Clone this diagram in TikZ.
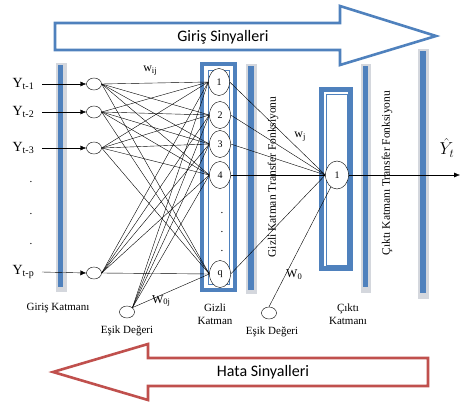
\documentclass[tikz,border=0pt]{standalone}
\usepackage{fontspec}
\setmainfont{Liberation Serif}
\newfontfamily\calibri{Carlito}
\usetikzlibrary{shapes.geometric,arrows.meta}
\definecolor{netblue}{RGB}{79,129,189}
\definecolor{netred}{RGB}{192,80,77}
\definecolor{bargrey}{RGB}{212,215,221}
\newcommand\sbs[1]{\raisebox{-0.35ex}{\fontsize{8.5}{9}\selectfont #1}}
\newcommand\ylab[1]{{\fontsize{14}{14}\selectfont Y}\raisebox{-0.45ex}{\fontsize{10}{10}\selectfont #1}}
\tikzset{
  inode/.style={draw,ellipse,fill=white,inner sep=0pt,minimum width=15pt,minimum height=12pt},
  hnode/.style={draw,ellipse,fill=white,inner sep=0pt,minimum width=21pt,minimum height=27pt,font=\fontsize{10}{10}\selectfont},
  lbl/.style={font=\fontsize{11}{13}\selectfont,align=center,inner sep=0pt},
  wlbl/.style={font=\fontsize{12}{12}\selectfont,inner sep=0pt},
  sideways/.style={font=\fontsize{11.5}{11.5}\selectfont,rotate=90,inner sep=0pt},
  bigarrow/.style={line width=2.6pt,fill=white,line join=miter},
  arr/.style={-{Latex[length=6pt,width=5pt]}}
}
\begin{document}
\begin{tikzpicture}[x=1pt,y=-1pt]
\useasboundingbox (0,0) rectangle (463,404);

\fill[bargrey] (56,63) rectangle (67,292);
\fill[netblue] (58,65) rectangle (63,287);
\fill[bargrey] (246,64) rectangle (257,294);
\fill[netblue] (248,66) rectangle (254,290);
\fill[bargrey] (361,64) rectangle (371,293);
\fill[netblue] (363,66) rectangle (368,287);
\fill[bargrey] (418,49) rectangle (429,299);
\fill[netblue] (420,51) rectangle (426,293);

\draw[netblue,line width=4pt] (202,64) rectangle (235,290);
\draw[netblue,line width=0.9pt] (208,70) rectangle (229,284);
\draw[netblue,line width=5pt] (321.5,89.5) rectangle (350.5,268.5);
\draw[netblue,line width=0.9pt] (326,94) rectangle (347,265);

\draw[netblue,bigarrow] (55,23) -- (340,23) -- (340,6) -- (436,36) -- (340,65) -- (340,50) -- (55,50) -- cycle;
\node (giris) at (223,37) {\calibri\fontsize{16}{16}\selectfont Giriş Sinyalleri};
\draw[netred,bigarrow] (53,372) -- (148,344) -- (148,358) -- (428,358) -- (428,386) -- (148,386) -- (148,400) -- cycle;
\node (hata) at (263,372) {\calibri\fontsize{16}{16}\selectfont Hata Sinyalleri};

\node[inode] (i1) at (94,84) {};
\node[inode] (i2) at (94,112) {};
\node[inode] (i3) at (94,148) {};
\node[inode] (i4) at (94,273) {};
\node[inode] (b1) at (127,312) {};
\node[inode] (b2) at (269,313) {};

\node[hnode] (h1) at (219,82) {1};
\node[hnode] (h2) at (220,115) {2};
\node[hnode] (h3) at (220,144) {3};
\node[hnode] (h4) at (220,175) {4};
\node[hnode] (h5) at (220,274) {q};
\node[hnode,minimum width=23pt,minimum height=28pt] (o) at (337,175) {1};

\node[lbl,anchor=east] (y1) at (34,84) {\ylab{t-1}};
\node[lbl,anchor=east] (y2) at (34,112) {\ylab{t-2}};
\node[lbl,anchor=east] (y3) at (34,148) {\ylab{t-3}};
\node[lbl,anchor=east] (y4) at (34,272) {\ylab{t-p}};
\foreach \i in {1,...,4}
{
    \draw[arr] (y\i.east) ++(8,0) -- (i\i.west);
}
\foreach \y [count=\k] in {182,214,244}
{
    \node[lbl] (dot\k) at (31,\y) {.};
}
\foreach \y [count=\k] in {213,232,251}
{
    \node[lbl] (hdot\k) at (222,\y) {.};
}

\foreach \i in {1,...,4}
{
    \foreach \j in {1,...,5}
    {
        \draw (i\i.east) -- (h\j.west);
    }
}
\foreach \j in {1,...,5}
{
    \draw (b1.north east) -- (h\j.west);
    \draw (h\j.east) -- (o.west);
}
\draw (b2.north) -- (o);
\coordinate (yend) at (460,175);
\draw[arr] (o.east) -- (yend);

\node[wlbl] (wij) at (150,71) {w\sbs{ij}};
\node[wlbl] (w0j) at (161,301) {W\sbs{0j}};
\node[wlbl] (wj) at (300,137) {w\sbs{j}};
\node[wlbl] (w0) at (294,275) {W\sbs{0}};
\node[inner sep=0pt] (yhat) at (447,148) {\fontsize{17}{17}\selectfont$\hat{Y}_t$};

\node[lbl] (giriskat) at (58,308) {Giriş Katmanı};
\node[lbl] (esik1) at (127,331) {Eşik Değeri};
\node[lbl] (gizli) at (215,314) {Gizli\\Katman};
\node[lbl] (esik2) at (272,332) {Eşik Değeri};
\node[lbl] (cikti) at (348,314) {Çıktı\\Katmanı};
\node[sideways] (gtf) at (273,177) {Gizli Katman Transfer Fonksiyonu};
\node[sideways] (ctf) at (387,173) {Çıktı Katmanı Transfer Fonksiyonu};

\end{tikzpicture}
\end{document}
